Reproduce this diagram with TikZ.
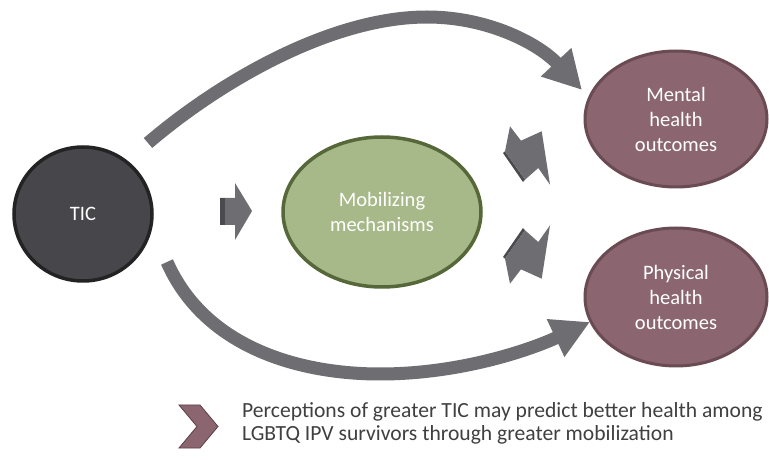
\documentclass[tikz,border=0pt]{standalone}
\usepackage{fontspec}
\setmainfont{Carlito}
\usetikzlibrary{shapes.geometric,arrows.meta}
\definecolor{ticfill}{HTML}{47464B}
\definecolor{ticedge}{HTML}{232323}
\definecolor{mobfill}{HTML}{A7B889}
\definecolor{mobedge}{HTML}{56683A}
\definecolor{outfill}{HTML}{8B6670}
\definecolor{outedge}{HTML}{6A4A53}
\definecolor{chevedge}{HTML}{5A3F47}
\definecolor{arrowgray}{HTML}{6E6D72}
\definecolor{arrowdark}{HTML}{4B4A4F}
\definecolor{legendtext}{HTML}{404040}
\begin{document}
\begin{tikzpicture}[x=1pt,y=-1pt,
  oval/.style={ellipse, line width=3.5pt, inner sep=0pt, align=center,
    text=white, font=\fontsize{20.5}{25}\selectfont},
  bigarrow/.style={line width=13pt, draw=arrowgray,
    -{Triangle[length=38pt,width=39pt]}},
  blockarrow/.style={fill=arrowgray},
  blockshade/.style={fill=arrowdark},
  legendmark/.style={fill=outfill, draw=chevedge, line width=0.8pt},
  legendlabel/.style={anchor=west, align=left, text=legendtext,
    inner sep=0pt, font=\fontsize{21.6}{23.5}\selectfont}]
\useasboundingbox (0,0) rectangle (769,462);
\fill[white] (0,0) rectangle (769,462);

% main nodes
\node[oval, fill=ticfill, draw=ticedge, minimum width=138pt, minimum height=134pt]
  (tic) at (83,214) {TIC};
\node[oval, fill=mobfill, draw=mobedge, minimum width=198pt, minimum height=150pt]
  (mob) at (382,212) {Mobilizing\\mechanisms};
\node[oval, fill=outfill, draw=outedge, line width=3pt, minimum width=182pt, minimum height=136pt]
  (mental) at (676,119) {Mental\\health\\outcomes};
\node[oval, fill=outfill, draw=outedge, line width=3pt, minimum width=182pt, minimum height=138pt]
  (physical) at (676,297) {Physical\\health\\outcomes};

% free ends of the direct paths
\coordinate (topstart) at (148,143);
\coordinate (toptip) at (582,90);
\coordinate (botstart) at (167,262);
\coordinate (bottip) at (590,322);

% direct effects of TIC on health
\draw[bigarrow] (topstart) .. controls (218,83) and (330,17) .. (427,17)
  .. controls (490,17) and (540,45) .. (toptip);
\draw[bigarrow] (botstart) .. controls (205,348) and (300,374) .. (380,374)
  .. controls (460,374) and (530,350) .. (bottip);

% TIC -> mobilizing mechanisms
\fill[blockarrow] (220,198) -- (235,198) -- (235,183) -- (252,211) -- (235,240)
  -- (235,225) -- (220,225) -- cycle;
\fill[blockshade] (220,198) rectangle (225,225);

% mobilizing mechanisms -> mental health
\fill[blockshade] (503,153) -- (523,182) -- (525,179.7) -- (505,151.3) -- cycle;
\fill[blockarrow] (510,126.3) -- (521,140.7) -- (541.7,131.3) -- (550,184.7)
  -- (538.3,168) -- (525,179.7) -- (505,151.3) -- cycle;

% mobilizing mechanisms -> physical health
\fill[blockshade] (503,257) -- (523,228) -- (525,230.3) -- (505,258.7) -- cycle;
\fill[blockarrow] (510,283.7) -- (521,269.3) -- (541.7,278.7) -- (550,225.3)
  -- (538.3,242) -- (525,230.3) -- (505,258.7) -- cycle;

% legend
\draw[legendmark] (179,405) -- (200,405) -- (218,426.5) -- (200,448) -- (179,448)
  -- (197,426.5) -- cycle;
\node[legendlabel] (legend) at (242,423.5)
  {Perceptions of greater TIC may predict better health among\\LGBTQ IPV survivors through greater mobilization};
\end{tikzpicture}
\end{document}
